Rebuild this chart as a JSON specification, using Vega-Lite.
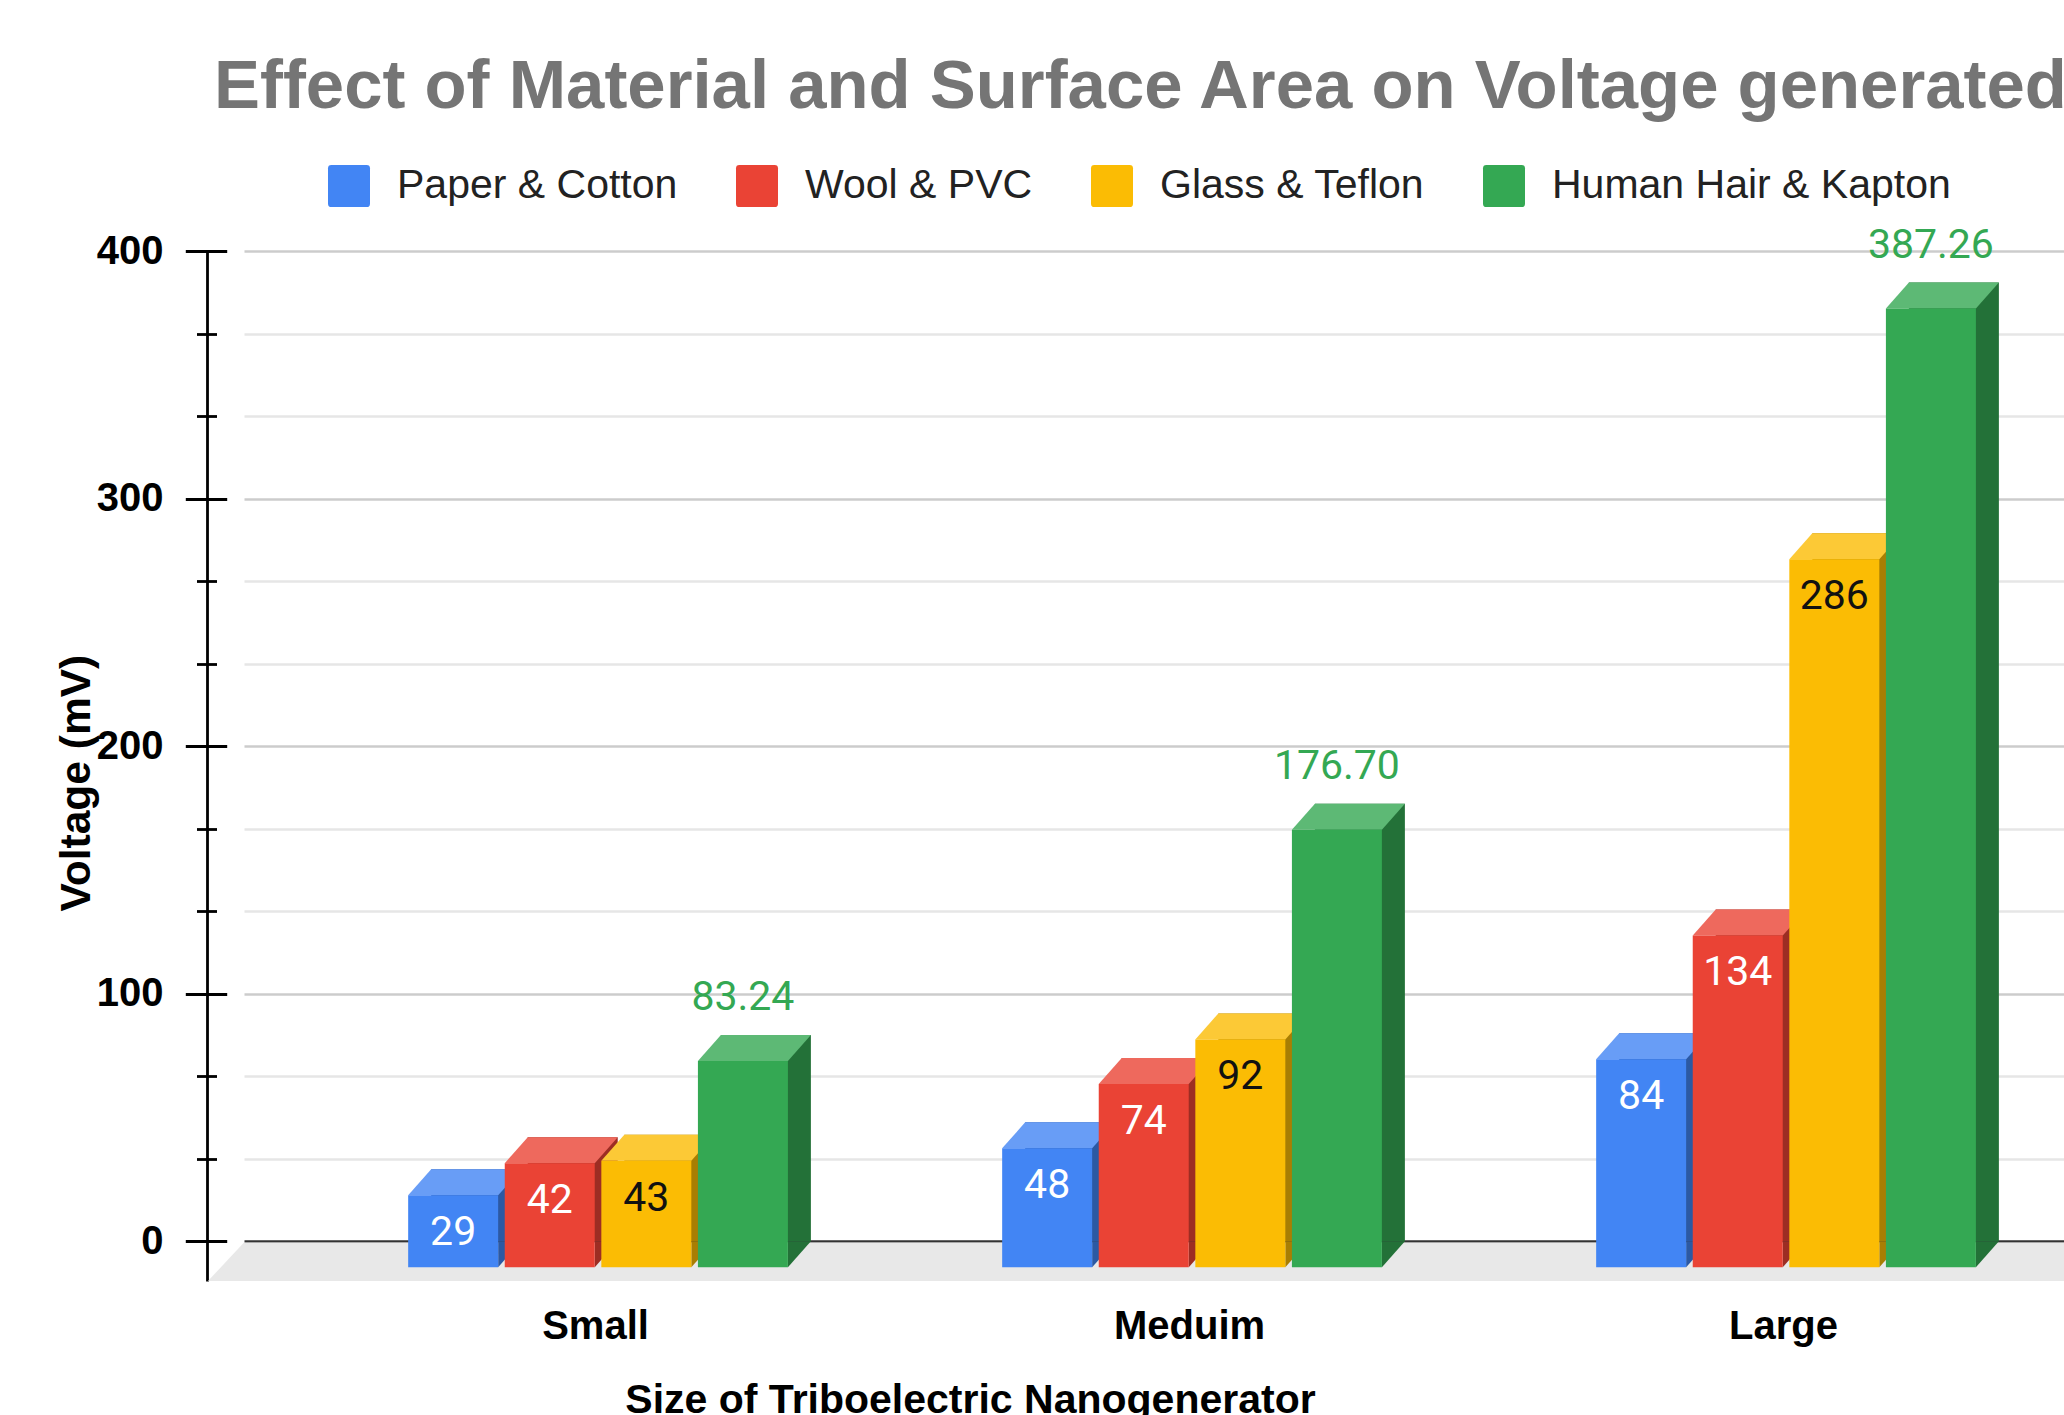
{
  "$schema": "https://vega.github.io/schema/vega-lite/v6.json",
  "width": 1820,
  "height": 1030,
  "autosize": {"type": "none"},
  "padding": {"left": 244, "top": 251, "right": 0, "bottom": 134},
  "background": "white",
  "config": {
    "view": {"stroke": null},
    "font": "Liberation Sans",
    "axis": {"labelFlush": false, "labelOverlap": false, "labelBound": false}
  },
  "title": {
    "text": "Effect of Material and Surface Area on Voltage generated",
    "anchor": "start",
    "frame": "group",
    "font": "Liberation Sans",
    "fontSize": 68.9,
    "fontWeight": "bold",
    "color": "#757575",
    "dx": -30,
    "offset": -12,
    "baseline": "alphabetic"
  },
  "data": {
    "values": [
      {"size": "Small", "material": "Paper & Cotton", "value": 29},
      {"size": "Small", "material": "Wool & PVC", "value": 42},
      {"size": "Small", "material": "Glass & Teflon", "value": 43},
      {"size": "Small", "material": "Human Hair & Kapton", "value": 83.24},
      {"size": "Meduim", "material": "Paper & Cotton", "value": 48},
      {"size": "Meduim", "material": "Wool & PVC", "value": 74},
      {"size": "Meduim", "material": "Glass & Teflon", "value": 92},
      {"size": "Meduim", "material": "Human Hair & Kapton", "value": 176.70},
      {"size": "Large", "material": "Paper & Cotton", "value": 84},
      {"size": "Large", "material": "Wool & PVC", "value": 134},
      {"size": "Large", "material": "Glass & Teflon", "value": 286},
      {"size": "Large", "material": "Human Hair & Kapton", "value": 387.26}
    ]
  },
  "resolve": {
    "scale": {"xOffset": "independent", "color": "independent"},
    "axis": {"y": "independent", "x": "independent"}
  },
  "layer": [
    {
      "data": {"values": [{"floor": 1}]},
      "mark": {"type": "rect", "color": "#e8e8e8", "yOffset": 1.4},
      "encoding": {
        "x": {"value": 0},
        "x2": {"value": "width"},
        "y": {"datum": 0, "type": "quantitative", "scale": {"domain": [-16.1, 400], "nice": false}, "axis": null},
        "y2": {"value": "height"}
      }
    },
    {
      "data": {"values": [{"floor": 1}]},
      "mark": {"type": "point", "shape": "M0,0L0,0.77L-0.72,0.77Z", "size": 10000, "filled": true, "opacity": 1, "strokeWidth": 0, "color": "#e8e8e8", "yOffset": 1.4},
      "encoding": {
        "x": {"value": 0},
        "y": {"datum": 0, "type": "quantitative", "scale": {"domain": [-16.1, 400], "nice": false}, "axis": null}
      }
    },
    {
      "mark": {"type": "bar"},
      "encoding": {
        "x": {
          "field": "size", "type": "nominal", "sort": ["Small", "Meduim", "Large"],
          "scale": {"paddingInner": 0.322, "paddingOuter": 0.193, "align": 0.716},
          "axis": {
            "orient": "bottom",
            "title": "Size of Triboelectric Nanogenerator",
            "labelFont": "Liberation Sans", "labelFontSize": 40, "labelFontWeight": "bold", "labelColor": "#000000",
            "labelAngle": 0, "labelPadding": 57, "labelBaseline": "alphabetic", "labelOffset": -14, "labelLimit": 1000,
            "ticks": false, "domain": false, "grid": false,
            "titleFont": "Liberation Sans", "titleFontSize": 41, "titleFontWeight": "bold", "titleColor": "#000000",
            "titleX": 726, "titleY": 131, "titleBaseline": "alphabetic", "titleAlign": "center"
          }
        },
        "xOffset": {"field": "material", "type": "nominal", "scale": {"type": "band", "domain": ["Paper & Cotton", "Wool & PVC", "Glass & Teflon", "Human Hair & Kapton"], "paddingInner": 0.0683, "paddingOuter": 0.119, "align": 1}},
        "y": {
          "field": "value", "type": "quantitative",
          "scale": {"domain": [-16.1, 400], "nice": false},
          "axis": {
            "orient": "left", "offset": 27.5,
            "values": [33.333, 66.667, 133.333, 166.667, 233.333, 266.667, 333.333, 366.667],
            "tickSize": 20, "tickWidth": 2.8, "tickColor": "#000000",
            "domain": false, "labels": false,
            "grid": true, "gridColor": "#e6e6e6", "gridWidth": 2.5,
            "title": null
          }
        },
        "y2": {"datum": 0},
        "color": {"field": "material", "type": "nominal", "scale": {"domain": ["Paper & Cotton", "Wool & PVC", "Glass & Teflon", "Human Hair & Kapton"], "range": ["#2c59a3", "#9d2d23", "#a87e03", "#237138"]}, "legend": null}
      }
    },
    {
      "mark": {"type": "point", "shape": "M0.9,0L1.36,0L0.9,0.52Z", "size": 10000, "filled": true, "opacity": 1, "strokeWidth": 0},
      "encoding": {
        "x": {"field": "size", "type": "nominal", "sort": ["Small", "Meduim", "Large"], "axis": null},
        "xOffset": {"field": "material", "type": "nominal", "scale": {"type": "band", "domain": ["Paper & Cotton", "Wool & PVC", "Glass & Teflon", "Human Hair & Kapton"], "paddingInner": 0.0683, "paddingOuter": 0.119, "align": 0}},
        "y": {"datum": 0, "type": "quantitative", "scale": {"domain": [-16.1, 400], "nice": false}, "axis": null},
        "color": {"field": "material", "type": "nominal", "scale": {"domain": ["Paper & Cotton", "Wool & PVC", "Glass & Teflon", "Human Hair & Kapton"], "range": ["#2c59a3", "#9d2d23", "#a87e03", "#237138"]}, "legend": null}
      }
    },
    {
      "mark": {"type": "point", "shape": "M-0.9,0.52L0.9,0.52L1.36,0L-0.44,0Z", "size": 10000, "filled": true, "opacity": 1, "strokeWidth": 0},
      "encoding": {
        "x": {"field": "size", "type": "nominal", "sort": ["Small", "Meduim", "Large"], "axis": null},
        "xOffset": {"field": "material", "type": "nominal", "scale": {"type": "band", "domain": ["Paper & Cotton", "Wool & PVC", "Glass & Teflon", "Human Hair & Kapton"], "paddingInner": 0.0683, "paddingOuter": 0.119, "align": 0}},
        "y": {
          "field": "value", "type": "quantitative",
          "scale": {"domain": [-16.1, 400], "nice": false},
          "axis": {
            "orient": "left", "offset": 17.3,
            "values": [0, 100, 200, 300, 400],
            "tickSize": 41.4, "tickWidth": 2.8, "tickColor": "#000000",
            "domain": false,
            "labelPadding": 22.3, "labelFont": "Liberation Sans", "labelFontSize": 40, "labelFontWeight": "bold", "labelColor": "#000000",
            "grid": true,
            "gridColor": {"condition": {"test": "datum.value === 0", "value": "#333333"}, "value": "#cccccc"},
            "gridWidth": 2.7,
            "title": null
          }
        },
        "color": {"field": "material", "type": "nominal", "scale": {"domain": ["Paper & Cotton", "Wool & PVC", "Glass & Teflon", "Human Hair & Kapton"], "range": ["#689df6", "#ee695d", "#fcc936", "#5db975"]}, "legend": null}
      }
    },
    {
      "mark": {"type": "bar", "yOffset": 26, "y2Offset": 26},
      "encoding": {
        "x": {"field": "size", "type": "nominal", "sort": ["Small", "Meduim", "Large"], "axis": null},
        "xOffset": {"field": "material", "type": "nominal", "scale": {"type": "band", "domain": ["Paper & Cotton", "Wool & PVC", "Glass & Teflon", "Human Hair & Kapton"], "paddingInner": 0.0683, "paddingOuter": 0.119, "align": 0}},
        "y": {
          "field": "value", "type": "quantitative",
          "scale": {"domain": [-16.1, 400], "nice": false},
          "axis": {
            "orient": "left", "offset": 37,
            "ticks": false, "labels": false, "grid": false,
            "domain": true, "domainColor": "#000000", "domainWidth": 2.8,
            "title": "Voltage (mV)",
            "titleFont": "Liberation Sans", "titleFontSize": 42.5, "titleFontWeight": "bold", "titleColor": "#000000",
            "titleAngle": -90, "titleX": -131, "titleY": 531.6, "titleAlign": "center", "titleBaseline": "middle"
          }
        },
        "y2": {"datum": 0},
        "color": {
          "field": "material", "type": "nominal",
          "scale": {"domain": ["Paper & Cotton", "Wool & PVC", "Glass & Teflon", "Human Hair & Kapton"], "range": ["#4285f4", "#ea4335", "#fbbc04", "#34a853"]},
          "legend": {
            "orient": "none", "legendX": 84, "legendY": -86, "direction": "horizontal", "title": null,
            "symbolType": "M-0.84,-1H0.84Q1,-1 1,-0.84V0.84Q1,1 0.84,1H-0.84Q-1,1 -1,0.84V-0.84Q-1,-1 -0.84,-1Z",
            "symbolSize": 1764, "symbolStrokeWidth": 0, "symbolOpacity": 1,
            "labelFont": "Liberation Sans", "labelFontSize": 41, "labelColor": "#222222", "labelOffset": 27, "labelLimit": 1000,
            "columnPadding": 58, "padding": 0
          }
        }
      }
    },
    {
      "transform": [{"filter": "datum.material === 'Paper & Cotton' || datum.material === 'Wool & PVC'"}],
      "mark": {"type": "text", "font": "Roboto", "fontSize": 41, "fill": "#ffffff", "baseline": "middle", "yOffset": 64},
      "encoding": {
        "x": {"field": "size", "type": "nominal", "sort": ["Small", "Meduim", "Large"], "axis": null},
        "xOffset": {"field": "material", "type": "nominal", "scale": {"type": "band", "domain": ["Paper & Cotton", "Wool & PVC", "Glass & Teflon", "Human Hair & Kapton"], "paddingInner": 0.0683, "paddingOuter": 0.119, "align": 0}},
        "y": {"field": "value", "type": "quantitative", "scale": {"domain": [-16.1, 400], "nice": false}, "axis": null},
        "text": {"field": "value", "type": "quantitative", "format": "d"}
      }
    },
    {
      "transform": [{"filter": "datum.material === 'Glass & Teflon'"}],
      "mark": {"type": "text", "font": "Roboto", "fontSize": 41, "fill": "#111111", "baseline": "middle", "yOffset": 64},
      "encoding": {
        "x": {"field": "size", "type": "nominal", "sort": ["Small", "Meduim", "Large"], "axis": null},
        "xOffset": {"field": "material", "type": "nominal", "scale": {"type": "band", "domain": ["Paper & Cotton", "Wool & PVC", "Glass & Teflon", "Human Hair & Kapton"], "paddingInner": 0.0683, "paddingOuter": 0.119, "align": 0}},
        "y": {"field": "value", "type": "quantitative", "scale": {"domain": [-16.1, 400], "nice": false}, "axis": null},
        "text": {"field": "value", "type": "quantitative", "format": "d"}
      }
    },
    {
      "transform": [{"filter": "datum.material === 'Human Hair & Kapton'"}],
      "mark": {"type": "text", "font": "Roboto", "fontSize": 41, "fill": "#34a853", "baseline": "middle", "yOffset": -36.6},
      "encoding": {
        "x": {"field": "size", "type": "nominal", "sort": ["Small", "Meduim", "Large"], "axis": null},
        "xOffset": {"field": "material", "type": "nominal", "scale": {"type": "band", "domain": ["Paper & Cotton", "Wool & PVC", "Glass & Teflon", "Human Hair & Kapton"], "paddingInner": 0.0683, "paddingOuter": 0.119, "align": 0}},
        "y": {"field": "value", "type": "quantitative", "scale": {"domain": [-16.1, 400], "nice": false}, "axis": null},
        "text": {"field": "value", "type": "quantitative", "format": ".2f"}
      }
    }
  ]
}
